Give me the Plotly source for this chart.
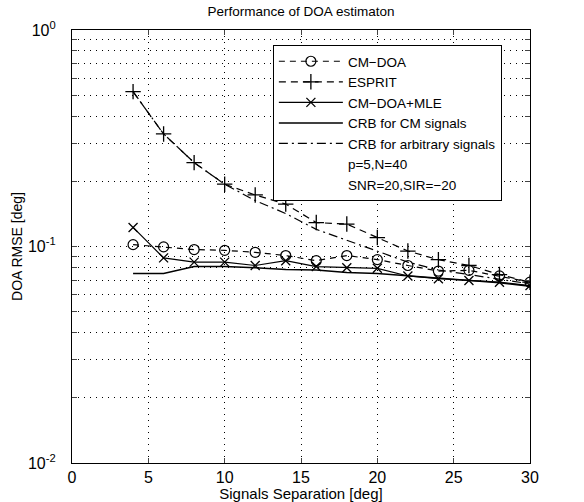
import plotly.graph_objects as go

sep = [4, 6, 8, 10, 12, 14, 16, 18, 20, 22, 24, 26, 28, 30]
cm_doa = [0.102, 0.0996, 0.0968, 0.096, 0.094, 0.0908, 0.086, 0.0908, 0.087, 0.0817, 0.077, 0.0776, 0.0731, 0.0684]
esprit = [0.519, 0.331, 0.244, 0.194, 0.173, 0.157, 0.129, 0.127, 0.110, 0.0953, 0.0869, 0.0817, 0.0742, 0.0684]
cm_mle = [0.1225, 0.0886, 0.0847, 0.0847, 0.0817, 0.086, 0.0808, 0.0798, 0.0793, 0.0731, 0.071, 0.0697, 0.0684, 0.066]
crb_cm = [0.075, 0.075, 0.0808, 0.0808, 0.0798, 0.0783, 0.0779, 0.0759, 0.075, 0.0731, 0.0715, 0.0697, 0.068, 0.0655]
crb_arb = [0.519, 0.331, 0.244, 0.194, 0.163, 0.142, 0.120, 0.107, 0.0953, 0.0847, 0.0779, 0.0742, 0.0710, 0.0672]
x_ticks = [0, 5, 10, 15, 20, 25, 30]
y_decades = [-2, -1, 0]
extra_legend = ["p=5,N=40", "SNR=20,SIR=\u221220"]

FONT = "Liberation Sans, Arial, sans-serif"
fig = go.Figure()

fig.add_trace(go.Scatter(x=sep, y=cm_doa, name="CM\u2212DOA", mode="lines+markers",
                         line=dict(color="black", width=1.2, dash="6px,5px"),
                         marker=dict(symbol="circle-open", size=10, color="black", line=dict(width=1.2))))
fig.add_trace(go.Scatter(x=sep, y=esprit, name="ESPRIT", mode="lines+markers",
                         line=dict(color="black", width=1.2, dash="7px,5px"),
                         marker=dict(symbol="cross-thin-open", size=11, color="black", line=dict(width=1.3))))
fig.add_trace(go.Scatter(x=sep, y=cm_mle, name="CM\u2212DOA+MLE", mode="lines+markers",
                         line=dict(color="black", width=1.2),
                         marker=dict(symbol="x-thin-open", size=9, color="black", line=dict(width=1.3))))
fig.add_trace(go.Scatter(x=sep, y=crb_cm, name="CRB for CM signals", mode="lines",
                         line=dict(color="black", width=1.5)))
fig.add_trace(go.Scatter(x=sep, y=crb_arb, name="CRB for arbitrary signals", mode="lines",
                         line=dict(color="black", width=1.2, dash="9px,4px,2px,4px")))
for t in extra_legend:
    fig.add_trace(go.Scatter(x=[None], y=[None], name=t, mode="lines",
                             line=dict(color="rgba(0,0,0,0)", width=1)))

yvals, ytext = [], []
for e in y_decades:
    for k in range(1, 10):
        v = k * 10.0 ** e
        if e == 0 and k > 1:
            break
        yvals.append(v)
        ytext.append(f"10<sup>{e}</sup>" if k == 1 else "")

fig.update_layout(
    width=584, height=502,
    margin=dict(l=72, r=54, t=30, b=39),
    paper_bgcolor="white", plot_bgcolor="white",
    font=dict(family=FONT, size=14, color="black"),
    title=dict(text="Performance of DOA estimaton", x=0.5, xref="paper", xanchor="center",
               y=1 - 11 / 502, yanchor="middle", font=dict(size=13.5)),
    showlegend=True,
    legend=dict(x=0.4386, y=0.9654, xanchor="left", yanchor="top", bgcolor="white",
                bordercolor="black", borderwidth=1, font=dict(size=13.5), itemwidth=64,
                tracegroupgap=0, traceorder="normal"),
)
fig.update_xaxes(range=[0, 30], tickvals=x_ticks, ticks="inside", ticklen=5, mirror="ticks",
                 showline=True, linecolor="black", linewidth=1.2, automargin=False,
                 showgrid=True, gridcolor="black", griddash="1px,5px", gridwidth=1,
                 zeroline=False, ticklabelstandoff=0,
                 title=dict(text="Signals Separation [deg]", standoff=5, font=dict(size=15)),
                 tickfont=dict(size=16))
fig.update_yaxes(type="log", range=[-2, 0], tickvals=yvals, ticktext=ytext, ticks="inside",
                 ticklen=5, mirror="ticks", showline=True, linecolor="black", linewidth=1.2,
                 automargin=False, ticklabelstandoff=12,
                 showgrid=True, gridcolor="black", griddash="1px,5px", gridwidth=1,
                 zeroline=False, title=dict(text="DOA RMSE [deg]", standoff=2, font=dict(size=14)),
                 tickfont=dict(size=16))

fig.write_html("out.html", config={"displayModeBar": False},
               post_script="document.body.style.margin='0px';")
